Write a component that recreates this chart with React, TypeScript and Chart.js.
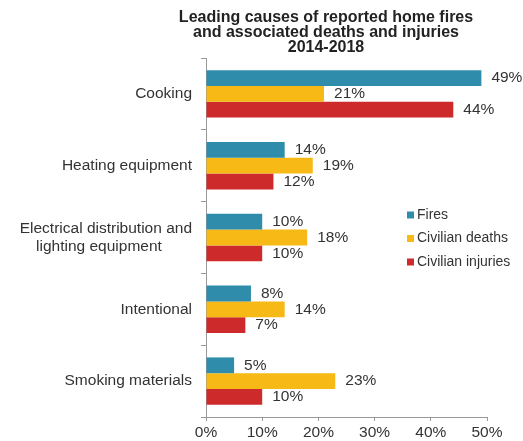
import React, { useEffect, useRef } from "react";
import { Chart, registerables } from "chart.js";

Chart.register(...registerables);

const categories: (string | string[])[] = [
  "Cooking",
  "Heating equipment",
  ["Electrical distribution and", "lighting equipment\u00a0\u00a0\u00a0\u00a0\u00a0\u00a0\u00a0"],
  "Intentional",
  "Smoking materials",
];
const fires = [49, 14, 10, 8, 5];
const civilianDeaths = [21, 19, 18, 14, 23];
const civilianInjuries = [44, 12, 10, 7, 10];
const seriesNames = ["Fires", "Civilian deaths", "Civilian injuries"];
const seriesColors = ["#2f8dab", "#f6b916", "#cd2a2b"];
const xTicks = [0, 10, 20, 30, 40, 50];
const titleLines = [
  "Leading causes of reported home fires",
  "and associated deaths and injuries",
  "2014-2018",
];

const FONT = "'Liberation Sans', Arial, sans-serif";

const titlePlugin = {
  id: "customTitle",
  afterDraw(chart: any) {
    const ctx = chart.ctx;
    ctx.save();
    ctx.font = `bold 16px ${FONT}`;
    ctx.fillStyle = "#222";
    ctx.textAlign = "center";
    ctx.textBaseline = "middle";
    titleLines.forEach((t, i) => ctx.fillText(t, 326, 18 + i * 15));
    ctx.restore();
  },
};

const valueLabelPlugin = {
  id: "valueLabels",
  afterDatasetsDraw(chart: any) {
    const ctx = chart.ctx;
    ctx.save();
    ctx.font = `15.5px ${FONT}`;
    ctx.fillStyle = "#333";
    ctx.textAlign = "left";
    ctx.textBaseline = "middle";
    chart.data.datasets.forEach((ds: any, di: number) => {
      const meta = chart.getDatasetMeta(di);
      meta.data.forEach((el: any, i: number) => {
        ctx.fillText(ds.data[i] + "%", el.x + 10, el.y);
      });
    });
    ctx.restore();
  },
};

const legendPlugin = {
  id: "customLegend",
  afterDraw(chart: any) {
    const ctx = chart.ctx;
    ctx.save();
    ctx.font = `14px ${FONT}`;
    ctx.textAlign = "left";
    ctx.textBaseline = "middle";
    seriesNames.forEach((name, i) => {
      const y = 215 + i * 23.5;
      ctx.fillStyle = seriesColors[i];
      ctx.fillRect(407, y - 3.5, 7, 7);
      ctx.fillStyle = "#333";
      ctx.fillText(name, 417, y);
    });
    ctx.restore();
  },
};

export default function App() {
  const canvasRef = useRef<HTMLCanvasElement | null>(null);

  useEffect(() => {
    if (!canvasRef.current) return;
    const chart = new Chart(canvasRef.current, {
      type: "bar",
      data: {
        labels: categories,
        datasets: [fires, civilianDeaths, civilianInjuries].map((d, i) => ({
          label: seriesNames[i],
          data: d,
          backgroundColor: seriesColors[i],
          borderWidth: 0,
          categoryPercentage: 0.66,
          barPercentage: 1.0,
        })),
      },
      options: {
        indexAxis: "y",
        animation: false,
        responsive: false,
        maintainAspectRatio: false,
        layout: { padding: { top: 58, right: 36, left: 0, bottom: 0 } },
        plugins: {
          legend: { display: false },
          title: { display: false },
          tooltip: { enabled: false },
        },
        scales: {
          x: {
            min: 0,
            max: 50,
            afterBuildTicks: (scale: any) => {
              scale.ticks = xTicks.map((v) => ({ value: v }));
            },
            afterFit: (scale: any) => {
              scale.height = 24;
            },
            ticks: {
              callback: (v: any) => v + "%",
              color: "#333",
              font: { family: FONT, size: 15.5 },
              padding: 2,
            },
            grid: { drawOnChartArea: false, tickLength: 4, color: "#999" },
            border: { color: "#999" },
          },
          y: {
            afterFit: (scale: any) => {
              scale.width = 206;
            },
            ticks: {
              color: "#333",
              font: { family: FONT, size: 15.5, lineHeight: 1.15 },
              padding: 9,
            },
            grid: { drawOnChartArea: false, tickLength: 5, offset: true, color: "#999" },
            border: { color: "#999" },
          },
        },
      },
      plugins: [titlePlugin, valueLabelPlugin, legendPlugin],
    } as any);
    return () => chart.destroy();
  }, []);

  return (
    <div style={{ position: "absolute", left: 0, top: 0, width: 523, height: 441 }}>
      <canvas ref={canvasRef} width={523} height={441} style={{ width: 523, height: 441 }} />
    </div>
  );
}
